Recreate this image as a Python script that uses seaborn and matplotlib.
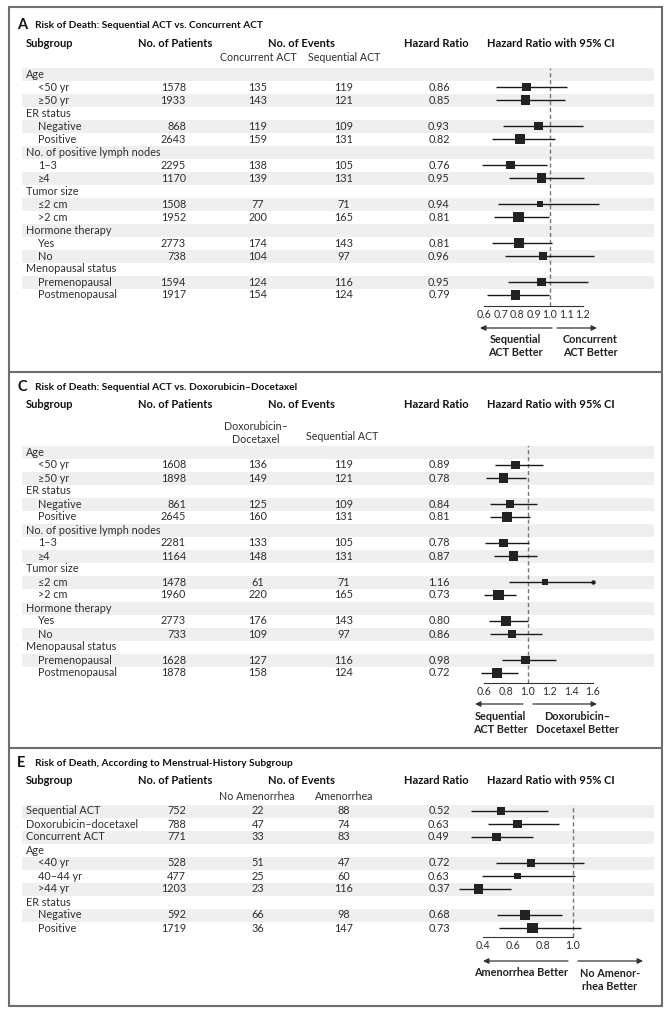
"""
plot.py
Subgroup forest plots: risk of death by treatment comparison and menstrual history.
"""
import matplotlib
matplotlib.use("Agg")
import pandas as pd
import matplotlib.pyplot as plt
import seaborn as sns
from matplotlib.patches import Rectangle

W, H, DPI = 672, 1019, 100
STEP = 13                      # row height, px
TXT = "#2e2e2e"
BAND = "#efefef"

# ---- Panel A: Sequential ACT vs. Concurrent ACT
A_LABELS = ["Age", "<50 yr", "≥50 yr", "ER status", "Negative", "Positive",
            "No. of positive lymph nodes", "1–3", "≥4", "Tumor size", "≤2 cm", ">2 cm",
            "Hormone therapy", "Yes", "No", "Menopausal status", "Premenopausal",
            "Postmenopausal"]
A_PATIENTS = [None, 1578, 1933, None, 868, 2643, None, 2295, 1170, None, 1508, 1952,
              None, 2773, 738, None, 1594, 1917]
A_EVENTS_1 = [None, 135, 143, None, 119, 159, None, 138, 139, None, 77, 200,
              None, 174, 104, None, 124, 154]
A_EVENTS_2 = [None, 119, 121, None, 109, 131, None, 105, 131, None, 71, 165,
              None, 143, 97, None, 116, 124]
A_HR = [None, 0.86, 0.85, None, 0.93, 0.82, None, 0.76, 0.95, None, 0.94, 0.81,
        None, 0.81, 0.96, None, 0.95, 0.79]
A_LO = [None, 0.675, 0.671, None, 0.715, 0.650, None, 0.590, 0.749, None, 0.683, 0.659,
        None, 0.650, 0.725, None, 0.743, 0.620]
A_HI = [None, 1.101, 1.091, None, 1.198, 1.030, None, 0.980, 1.204, None, 1.295, 0.996,
        None, 1.012, 1.265, None, 1.230, 0.996]
A_TICKS = [0.6, 0.7, 0.8, 0.9, 1.0, 1.1, 1.2]

# ---- Panel C: Sequential ACT vs. Doxorubicin-Docetaxel
C_LABELS = A_LABELS
C_PATIENTS = [None, 1608, 1898, None, 861, 2645, None, 2281, 1164, None, 1478, 1960,
              None, 2773, 733, None, 1628, 1878]
C_EVENTS_1 = [None, 136, 149, None, 125, 160, None, 133, 148, None, 61, 220,
              None, 176, 109, None, 127, 158]
C_EVENTS_2 = [None, 119, 121, None, 109, 131, None, 105, 131, None, 71, 165,
              None, 143, 97, None, 116, 124]
C_HR = [None, 0.89, 0.78, None, 0.84, 0.81, None, 0.78, 0.87, None, 1.16, 0.73,
        None, 0.80, 0.86, None, 0.98, 0.72]
C_LO = [None, 0.700, 0.621, None, 0.655, 0.655, None, 0.609, 0.691, None, 0.827, 0.600,
        None, 0.645, 0.655, None, 0.767, 0.570]
C_HI = [None, 1.139, 0.988, None, 1.085, 1.018, None, 1.009, 1.085, None, 1.600, 0.897,
        None, 1.000, 1.130, None, 1.260, 0.909]
C_TICKS = [0.6, 0.8, 1.0, 1.2, 1.4, 1.6]

# ---- Panel E: menstrual-history subgroups
E_LABELS = ["Sequential ACT", "Doxorubicin–docetaxel", "Concurrent ACT", "Age",
            "<40 yr", "40–44 yr", ">44 yr", "ER status", "Negative", "Positive"]
E_INDENT = [False, False, False, False, True, True, True, False, True, True]
E_PATIENTS = [752, 788, 771, None, 528, 477, 1203, None, 592, 1719]
E_EVENTS_1 = [22, 47, 33, None, 51, 25, 23, None, 66, 36]
E_EVENTS_2 = [88, 74, 83, None, 47, 60, 116, None, 98, 147]
E_HR = [0.52, 0.63, 0.49, None, 0.72, 0.63, 0.37, None, 0.68, 0.73]
E_LO = [0.322, 0.433, 0.322, None, 0.484, 0.396, 0.240, None, 0.493, 0.507]
E_HI = [0.833, 0.907, 0.733, None, 1.071, 1.011, 0.589, None, 0.929, 1.056]
E_TICKS = [0.4, 0.6, 0.8, 1.0]

PANELS = [
    dict(letter="A", title="Risk of Death: Sequential ACT vs. Concurrent ACT",
         title_y=25, head_y=43,
         sub=[("Concurrent ACT", 258, 57), ("Sequential ACT", 344, 57)],
         row0=74, axis_y=306, t0_px=484, ppu=165,
         ticks=A_TICKS, cap=None,
         arrows=[(552, 480, 328), (557, 597, 328)],
         notes=[("Sequential\nACT Better", 515, 346), ("Concurrent\nACT Better", 590, 346)],
         data=(A_LABELS, [p is not None for p in A_PATIENTS], A_PATIENTS,
               A_EVENTS_1, A_EVENTS_2, A_HR, A_LO, A_HI)),
    dict(letter="C", title="Risk of Death: Sequential ACT vs. Doxorubicin–Docetaxel",
         title_y=387, head_y=404,
         sub=[("Doxorubicin–\nDocetaxel", 256, 433), ("Sequential ACT", 342, 436)],
         row0=452, axis_y=683, t0_px=484, ppu=109,
         ticks=C_TICKS, cap=1.6,
         arrows=[(523, 475, 704), (533, 597, 704)],
         notes=[("Sequential\nACT Better", 500, 723), ("Doxorubicin–\nDocetaxel Better", 577, 723)],
         data=(C_LABELS, [p is not None for p in C_PATIENTS], C_PATIENTS,
               C_EVENTS_1, C_EVENTS_2, C_HR, C_LO, C_HI)),
    dict(letter="E", title="Risk of Death, According to Menstrual-History Subgroup",
         title_y=763, head_y=781,
         sub=[("No Amenorrhea", 257, 797), ("Amenorrhea", 344, 797)],
         row0=811, axis_y=937, t0_px=483, ppu=150,
         ticks=E_TICKS, cap=None,
         arrows=[(568, 483, 961), (578, 643, 961)],
         notes=[("Amenorrhea Better", 521, 973), ("No Amenor-\nrhea Better", 610, 980)],
         data=(E_LABELS, E_INDENT, E_PATIENTS, E_EVENTS_1, E_EVENTS_2,
               E_HR, E_LO, E_HI)),
]


def draw_panel(fig, bg, cfg):
    labels, indent, patients, ev1, ev2, hr, lo, hi = cfg["data"]
    row0 = cfg["row0"]
    ys = [row0 + i * STEP for i in range(len(labels))]

    # alternating row bands
    for y in ys[::2]:
        bg.add_patch(Rectangle((22, y - STEP / 2), 632, STEP, color=BAND, lw=0, zorder=0))

    bg.text(17, cfg["title_y"], cfg["letter"], fontsize=10.5, fontweight="bold",
            va="center", color="#111111")
    bg.text(35, cfg["title_y"], cfg["title"], fontsize=7.3, fontweight="bold",
            va="center", color="#111111")

    hy = cfg["head_y"]
    hd = dict(fontsize=8.0, fontweight="bold", va="center", color="#111111")
    bg.text(26, hy, "Subgroup", ha="left", **hd)
    bg.text(175, hy, "No. of Patients", ha="center", **hd)
    bg.text(301, hy, "No. of Events", ha="center", **hd)
    bg.text(436, hy, "Hazard Ratio", ha="center", **hd)
    bg.text(551, hy, "Hazard Ratio with 95% CI", ha="center", **hd)
    for txt, x, y in cfg["sub"]:
        bg.text(x, y, txt, ha="center", va="center", fontsize=7.7, color=TXT,
                linespacing=1.3)

    body = dict(fontsize=7.8, va="center", color=TXT)
    for i, y in enumerate(ys):
        bg.text(38 if indent[i] else 26, y, labels[i], ha="left", **body)
        if patients[i] is None:
            continue
        bg.text(186, y, f"{patients[i]}", ha="right", **body)
        bg.text(258, y, f"{ev1[i]}", ha="center", **body)
        bg.text(344, y, f"{ev2[i]}", ha="center", **body)
        bg.text(439, y, f"{hr[i]:.2f}", ha="center", **body)

    # forest axes
    x0, x1 = 440, 654
    top, bottom = row0 - STEP / 2, cfg["axis_y"]
    ax = fig.add_axes([x0 / W, 1 - bottom / H, (x1 - x0) / W, (bottom - top) / H])
    ax.set_facecolor("none")
    t0, ppu = cfg["ticks"][0], cfg["ppu"]
    ax.set_xlim(t0 - (cfg["t0_px"] - x0) / ppu, t0 + (x1 - cfg["t0_px"]) / ppu)
    ax.set_ylim((bottom - row0) / STEP, -0.5)

    df = pd.DataFrame({"row": range(len(labels)), "hr": hr, "lo": lo, "hi": hi,
                       "events": [None if a is None else a + b for a, b in zip(ev1, ev2)]})
    df = df.dropna()

    ax.axvline(1.0, color="#777777", lw=1.0, ls=(0, (3, 2)), zorder=1)
    ax.hlines(df["row"], df["lo"], df["hi"], color="#1a1a1a", lw=1.0, zorder=2)
    sns.scatterplot(data=df, x="hr", y="row", size="events", sizes=(22, 62),
                    marker="s", color="#222222", linewidth=0, legend=False,
                    ax=ax, zorder=3)
    if cfg["cap"] is not None:
        capped = df[df["hi"] >= cfg["cap"]]
        ax.plot(capped["hi"], capped["row"], "o", ms=2.2, color="#222222", zorder=3)

    sns.despine(ax=ax, left=True, top=True, right=True)
    ax.spines["bottom"].set_bounds(cfg["ticks"][0], cfg["ticks"][-1])
    ax.spines["bottom"].set_color("#333333")
    ax.spines["bottom"].set_linewidth(0.8)
    ax.set_xticks(cfg["ticks"])
    ax.set_xticklabels([f"{t:.1f}" for t in cfg["ticks"]])
    ax.tick_params(axis="x", direction="in", length=4, width=0.8, color="#333333",
                   pad=2, labelsize=7.6, labelcolor=TXT)
    ax.set_yticks([])
    ax.set_xlabel("")
    ax.set_ylabel("")

    for xa, xb, y in cfg["arrows"]:
        bg.annotate("", xy=(xb, y), xytext=(xa, y),
                    arrowprops=dict(arrowstyle="-|>", lw=0.9, color="#333333",
                                    mutation_scale=8, shrinkA=0, shrinkB=0))
    for txt, x, y in cfg["notes"]:
        bg.text(x, y, txt, ha="center", va="center", fontsize=7.8, fontweight="bold",
                color="#222222", linespacing=1.3)


def main():
    sns.set_theme(style="white")
    plt.rcParams["font.family"] = ["Lato", "DejaVu Sans"]

    fig = plt.figure(figsize=(W / DPI, H / DPI), dpi=DPI)
    bg = fig.add_axes([0, 0, 1, 1])
    bg.set_xlim(0, W)
    bg.set_ylim(H, 0)
    bg.axis("off")

    bg.add_patch(Rectangle((9, 7), 653, 999, fill=False, ec="#6e6e6e", lw=1.5))
    bg.hlines([372, 748], 9, 662, color="#6e6e6e", lw=1.5)

    for cfg in PANELS:
        draw_panel(fig, bg, cfg)

    fig.savefig("out.png", dpi=DPI)
    plt.close(fig)


if __name__ == "__main__":
    main()
